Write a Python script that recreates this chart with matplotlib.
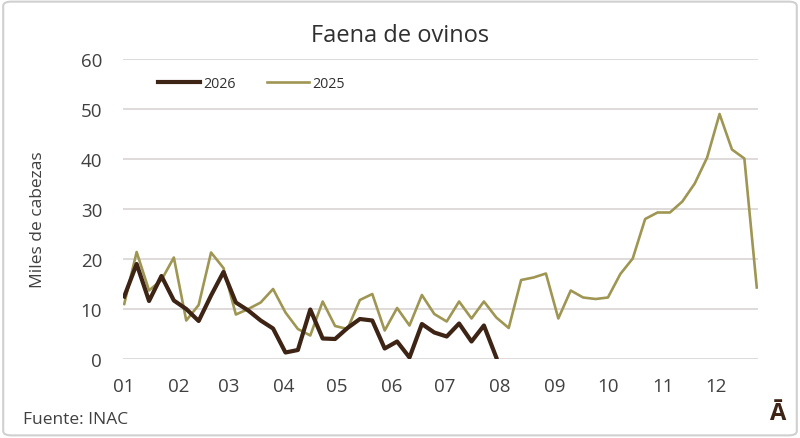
import numpy as np
import pandas as pd
import matplotlib
matplotlib.use("Agg")
import matplotlib.pyplot as plt
from matplotlib.patches import FancyBboxPatch

plt.rcParams['font.family'] = ['Open Sans', 'DejaVu Sans']

# weekly slaughter, thousands of head
faena_2026 = [12.5, 19.0, 11.6, 16.6, 11.7, 10.0, 7.6, 12.7, 17.4, 11.3,
              9.7, 7.7, 6.1, 1.3, 1.8, 9.9, 4.1, 4.0, 6.2, 8.0,
              7.7, 2.1, 3.5, 0.3, 7.0, 5.3, 4.5, 7.1, 3.5, 6.7, 0.3]
faena_2025 = [11.0, 21.4, 13.7, 15.8, 20.3, 7.7, 10.8, 21.3, 18.2, 8.9,
              10.0, 11.3, 14.0, 9.3, 6.0, 4.7, 11.5, 6.6, 6.0, 11.8,
              13.0, 5.7, 10.2, 6.7, 12.8, 9.0, 7.5, 11.5, 8.1, 11.5,
              8.3, 6.2, 15.8, 16.3, 17.1, 8.1, 13.7, 12.3, 12.0, 12.3,
              17.0, 20.1, 28.0, 29.3, 29.3, 31.5, 35.1, 40.3, 49.0, 41.9,
              40.1, 14.3]
month_labels = ['01', '02', '03', '04', '05', '06', '07', '08', '09', '10', '11', '12']

c2026 = '#3d2414'
c2025 = '#9e9652'

# month ticks placed at the week where each month starts
month_starts = pd.date_range('2025-01-01', periods=12, freq='MS')
tick_pos = (month_starts.dayofyear - 1) / 7.0

fig = plt.figure(figsize=(8, 4.39), dpi=100)
ax = fig.add_axes([123 / 800, 79 / 439, 635 / 800, 300 / 439])

ax.plot(np.arange(len(faena_2026)), faena_2026, color=c2026, lw=3.0,
        label='2026', solid_joinstyle='round', zorder=3)
ax.plot(np.arange(len(faena_2025)), faena_2025, color=c2025, lw=1.9,
        label='2025', zorder=2)

ax.set_ylim(0, 60)
ax.set_xlim(-0.1, 51.1)
ax.set_yticks(range(0, 61, 10))
ax.set_xticks(tick_pos)
ax.set_xticklabels(month_labels)
ax.tick_params(axis='both', length=0, labelsize=13.5, colors='#404040')
ax.tick_params(axis='y', pad=15)
ax.tick_params(axis='x', pad=13)
ax.grid(axis='y', color='#dcd8d8', lw=1.3)
ax.set_axisbelow(True)
for s in ax.spines.values():
    s.set_visible(False)

ax.set_ylabel('Miles de cabezas', fontsize=12.5, color='#404040')
ax.yaxis.set_label_coords(-0.121, 0.467)
fig.text(0.5, 0.918, 'Faena de ovinos', ha='center', va='center',
         fontsize=17, color='#303030')

leg = ax.legend(ncol=2, frameon=False, loc='upper left',
                bbox_to_anchor=(0.035, 0.987), fontsize=10.3, handlelength=2.9,
                handletextpad=0.25, columnspacing=2.2, labelcolor='#303030')

fig.text(23 / 800, 1 - 420 / 439, 'Fuente: INAC', ha='left', va='center',
         fontsize=12.5, color='#404040')
fig.text(777 / 800, 1 - 414 / 439, 'Ā', ha='center', va='center',
         fontsize=17, fontweight='bold', color=c2026)

border = FancyBboxPatch((0.004, 0.006), 0.992, 0.988,
                        boxstyle='round,pad=0,rounding_size=0.01',
                        transform=fig.transFigure, fill=False,
                        edgecolor='#d0d0d0', lw=1.5)
fig.patches.append(border)

fig.savefig('out.png', dpi=100)
